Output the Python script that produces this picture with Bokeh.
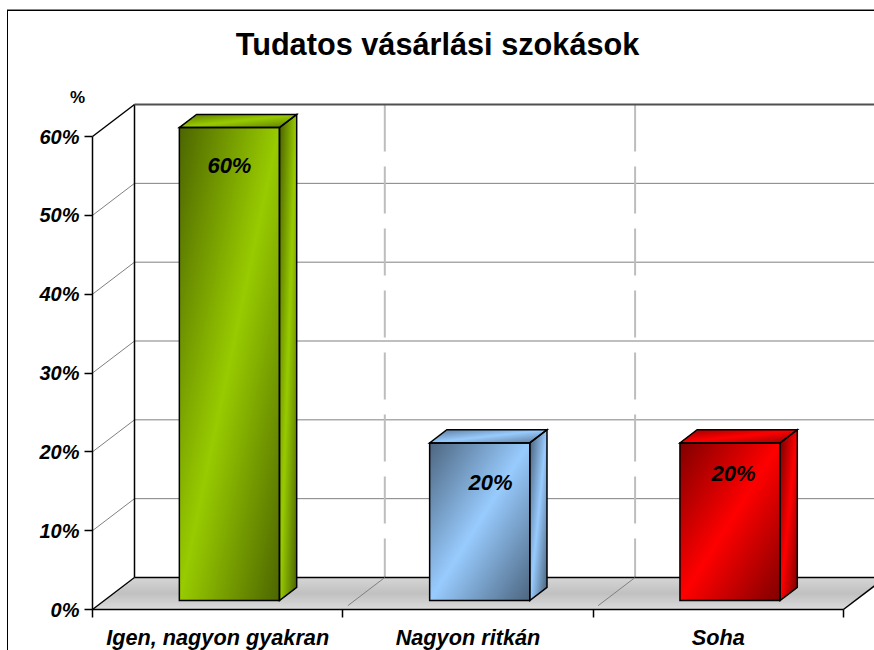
import numpy as np
from bokeh.core.properties import value
from bokeh.embed import file_html
from bokeh.models import FixedTicker, Label, LinearAxis, Range1d
from bokeh.plotting import figure
from bokeh.resources import INLINE

categories = ["Igen, nagyon gyakran", "Nagyon ritkán", "Soha"]
values = [60, 20, 20]
y_ticks = [0, 10, 20, 30, 40, 50, 60]
title_text = "Tudatos vásárlási szokások"
unit_label = "%"

bright_colors = [(153, 204, 0), (153, 204, 255), (255, 0, 0)]
dark_colors = [(77, 102, 0), (77, 102, 128), (128, 0, 0)]
label_x = [0.547, 1.59, 2.561]
label_y = [56.3, 16.1, 17.25]

W, H = 874, 650
TOP = 90                 # frame top in page pixels
PX_X = 250.3             # pixels per category
PX_Y = 7.883             # pixels per percent
X0, Y0 = 92, 609         # page pixels of the front origin
DX, DY = 42 / PX_X, 32 / PX_Y   # full floor depth in data units
BAR_W = 0.4
D1, D2 = 0.28, 0.69      # bar front and back depth

p = figure(width=W, height=H, frame_width=W, frame_height=H - TOP,
           x_range=Range1d(-X0 / PX_X, (W - X0) / PX_X),
           y_range=Range1d(-(H - Y0) / PX_Y, (Y0 - TOP) / PX_Y),
           output_backend="svg", toolbar_location=None, min_border=0,
           title=title_text)
p.styles = {
    "position": "absolute", "left": "0", "top": "0",
    "background": "linear-gradient(#888,#888) 7px 9px / 867px 1px no-repeat,"
                  "linear-gradient(#000,#000) 7px 10px / 867px 1px no-repeat,"
                  "linear-gradient(#000,#000) 7px 10px / 1px 640px no-repeat",
}
p.grid.visible = False
p.axis.visible = False
p.outline_line_color = None
p.background_fill_color = None
p.border_fill_color = None
p.title.align = "center"
p.title.vertical_align = "top"
p.title.text_font = "Liberation Sans"
p.title.text_font_style = "bold"
p.title.text_font_size = "30.7px"
p.title.text_color = "black"
p.title.standoff = 53


def gx(c, d=0.0):
    return c + d * DX


def gy(v, d=0.0):
    return v + d * DY


def face_image(p00, p10, p01, bright, dark, strength=1.0):
    """Diagonal three-stop gradient painted over a parallelogram, in data units."""
    p00, p10, p01 = map(np.array, (p00, p10, p01))
    p11 = p10 + p01 - p00
    pts = np.array([p00, p10, p01, p11])
    lo, hi = pts.min(0), pts.max(0)
    nx = max(2, int(round((hi[0] - lo[0]) * PX_X)))
    ny = max(2, int(round((hi[1] - lo[1]) * PX_Y)))
    xs = lo[0] + (np.arange(nx) + 0.5) / nx * (hi[0] - lo[0])
    ys = lo[1] + (np.arange(ny) + 0.5) / ny * (hi[1] - lo[1])
    xx, yy = np.meshgrid(xs, ys)
    m = np.linalg.inv(np.array([p10 - p00, p01 - p00]).T)
    u = m[0, 0] * (xx - p00[0]) + m[0, 1] * (yy - p00[1])
    v = m[1, 0] * (xx - p00[0]) + m[1, 1] * (yy - p00[1])
    t = np.abs(u + v - 1.0) * strength
    mask = (u >= 0) & (u <= 1) & (v >= 0) & (v <= 1)
    rgba = np.zeros((ny, nx, 4), dtype=np.uint8)
    for k in range(3):
        rgba[..., k] = np.clip(bright[k] + (dark[k] - bright[k]) * t, 0, 255)
    rgba[..., 3] = np.where(mask, 255, 0)
    img = rgba.view(np.uint32).reshape(ny, nx)
    p.image_rgba(image=[img], x=lo[0], y=lo[1], dw=hi[0] - lo[0], dh=hi[1] - lo[1])


# wall grid lines
for v in y_ticks[1:-1]:
    p.line([gx(0, 1), gx(3, 1.5)], [gy(v, 1), gy(v, 1)], line_color="#808080", line_width=1)
    p.line([gx(0, 0), gx(0, 1)], [gy(v, 0), gy(v, 1)], line_color="#808080", line_width=1)
for c in [1, 2]:
    p.line([gx(c, 1), gx(c, 1)], [gy(y_ticks[-1], 1), gy(0, 1)], line_color="#bdbdbd",
           line_width=2, line_dash="47 15")

# floor
n = 32
xs_grid = np.arange(0, 3 + DX + 1 / PX_X, 1 / PX_X)
fny, fnx = n, len(xs_grid)
frg = np.zeros((fny, fnx, 4), dtype=np.uint8)
for j in range(fny):
    f = j / (fny - 1)            # 0 at front edge, 1 at back edge
    g = 214 - 24 * (1 - abs(2 * f - 1)) + 6 * (1 - f)
    left = f * DX
    mask = (xs_grid >= left) & (xs_grid <= 3 + f * DX)
    frg[j, :, :3] = int(g)
    frg[j, :, 3] = np.where(mask, 255, 0)
p.image_rgba(image=[frg.view(np.uint32).reshape(fny, fnx)], x=0, y=gy(0, 0),
             dw=3 + DX, dh=DY)
p.line([gx(0, 0), gx(0, 1)], [gy(0, 0), gy(0, 1)], line_color="black", line_width=1.5)
p.line([gx(3, 0), gx(3, 1)], [gy(0, 0), gy(0, 1)], line_color="black", line_width=1.5)
p.line([gx(0, 1), gx(3, 1.5)], [gy(0, 1), gy(0, 1)], line_color="black", line_width=1.5)
for c in [1, 2]:
    p.line([gx(c, 0.12), gx(c, 1)], [gy(0, 0.12), gy(0, 1)], line_color="#808080", line_width=1)

# walls
p.line([gx(0, 1), gx(0, 1)], [gy(0, 1), gy(y_ticks[-1], 1)], line_color="black", line_width=1.5)
p.line([gx(0, 0), gx(0, 1)], [gy(y_ticks[-1], 0), gy(y_ticks[-1], 1)], line_color="black", line_width=1.5)
p.line([gx(0, 1), gx(3, 1.5)], [gy(y_ticks[-1], 1), gy(y_ticks[-1], 1)], line_color="#505050", line_width=2)

# bars
for i, v in enumerate(values):
    xl = i + 0.5 - BAR_W / 2
    xr = i + 0.5 + BAR_W / 2
    br, dk = bright_colors[i], dark_colors[i]
    front = [(gx(xl, D1), gy(v, D1)), (gx(xr, D1), gy(v, D1)),
             (gx(xr, D1), gy(0, D1)), (gx(xl, D1), gy(0, D1))]
    side = [(gx(xr, D1), gy(v, D1)), (gx(xr, D2), gy(v, D2)),
            (gx(xr, D2), gy(0, D2)), (gx(xr, D1), gy(0, D1))]
    top = [(gx(xl, D2), gy(v, D2)), (gx(xr, D2), gy(v, D2)),
           (gx(xr, D1), gy(v, D1)), (gx(xl, D1), gy(v, D1))]
    face_image(side[0], side[1], side[3], br, dk, 1.0)
    face_image(top[0], top[1], top[3], br, dk, 0.7)
    face_image(front[0], front[1], front[3], br, dk, 1.0)
    for poly in (side, top, front):
        p.patch([a for a, _ in poly], [b for _, b in poly], fill_alpha=0,
                line_color="black", line_width=1.5, line_join="miter")

# data labels
p.text(label_x, label_y, text=[f"{v}%" for v in values], text_align="center",
       text_baseline="middle", text_font=value("Liberation Sans"), text_font_size="22px",
       text_font_style="bold italic", text_color="black")

# axes
yax = LinearAxis(fixed_location=0, bounds=(0, y_ticks[-1]), ticker=FixedTicker(ticks=y_ticks),
                 major_label_overrides={t: f"{t}%" for t in y_ticks})
yax.major_label_text_font = "Liberation Sans"
yax.major_label_text_font_style = "bold italic"
yax.major_label_text_font_size = "20px"
yax.major_label_text_color = "black"
yax.major_label_standoff = 5
yax.major_tick_in = 0
yax.major_tick_out = 8
yax.minor_tick_line_color = None
yax.axis_line_color = "black"
yax.axis_line_width = 1.5
yax.major_tick_line_color = "black"
yax.major_tick_line_width = 1.5
p.add_layout(yax, "left")

cat_ticks = [i + 0.5 for i in range(len(categories))]
cax = LinearAxis(fixed_location=0, bounds=(0, 3),
                 ticker=FixedTicker(ticks=cat_ticks, minor_ticks=[0, 1, 2, 3]),
                 major_label_overrides=dict(zip(cat_ticks, categories)))
cax.axis_line_color = "black"
cax.axis_line_width = 1.5
cax.major_tick_line_color = None
cax.major_tick_out = 0
cax.major_tick_in = 0
cax.minor_tick_line_color = "black"
cax.minor_tick_line_width = 1.5
cax.minor_tick_out = 8
cax.minor_tick_in = 0
cax.major_label_standoff = 7
cax.major_label_text_font = "Liberation Sans"
cax.major_label_text_font_style = "bold italic"
cax.major_label_text_font_size = "21.7px"
cax.major_label_text_color = "black"
p.add_layout(cax, "below")

p.add_layout(Label(x=gx(0, 0) - 15 / PX_X, y=y_ticks[-1] + 39 / PX_Y, text=unit_label,
                   text_align="center", text_baseline="middle", text_font="Liberation Sans",
                   text_font_style="bold", text_font_size="17px", text_color="black"))

open("out.html", "w").write(file_html(p, INLINE))
